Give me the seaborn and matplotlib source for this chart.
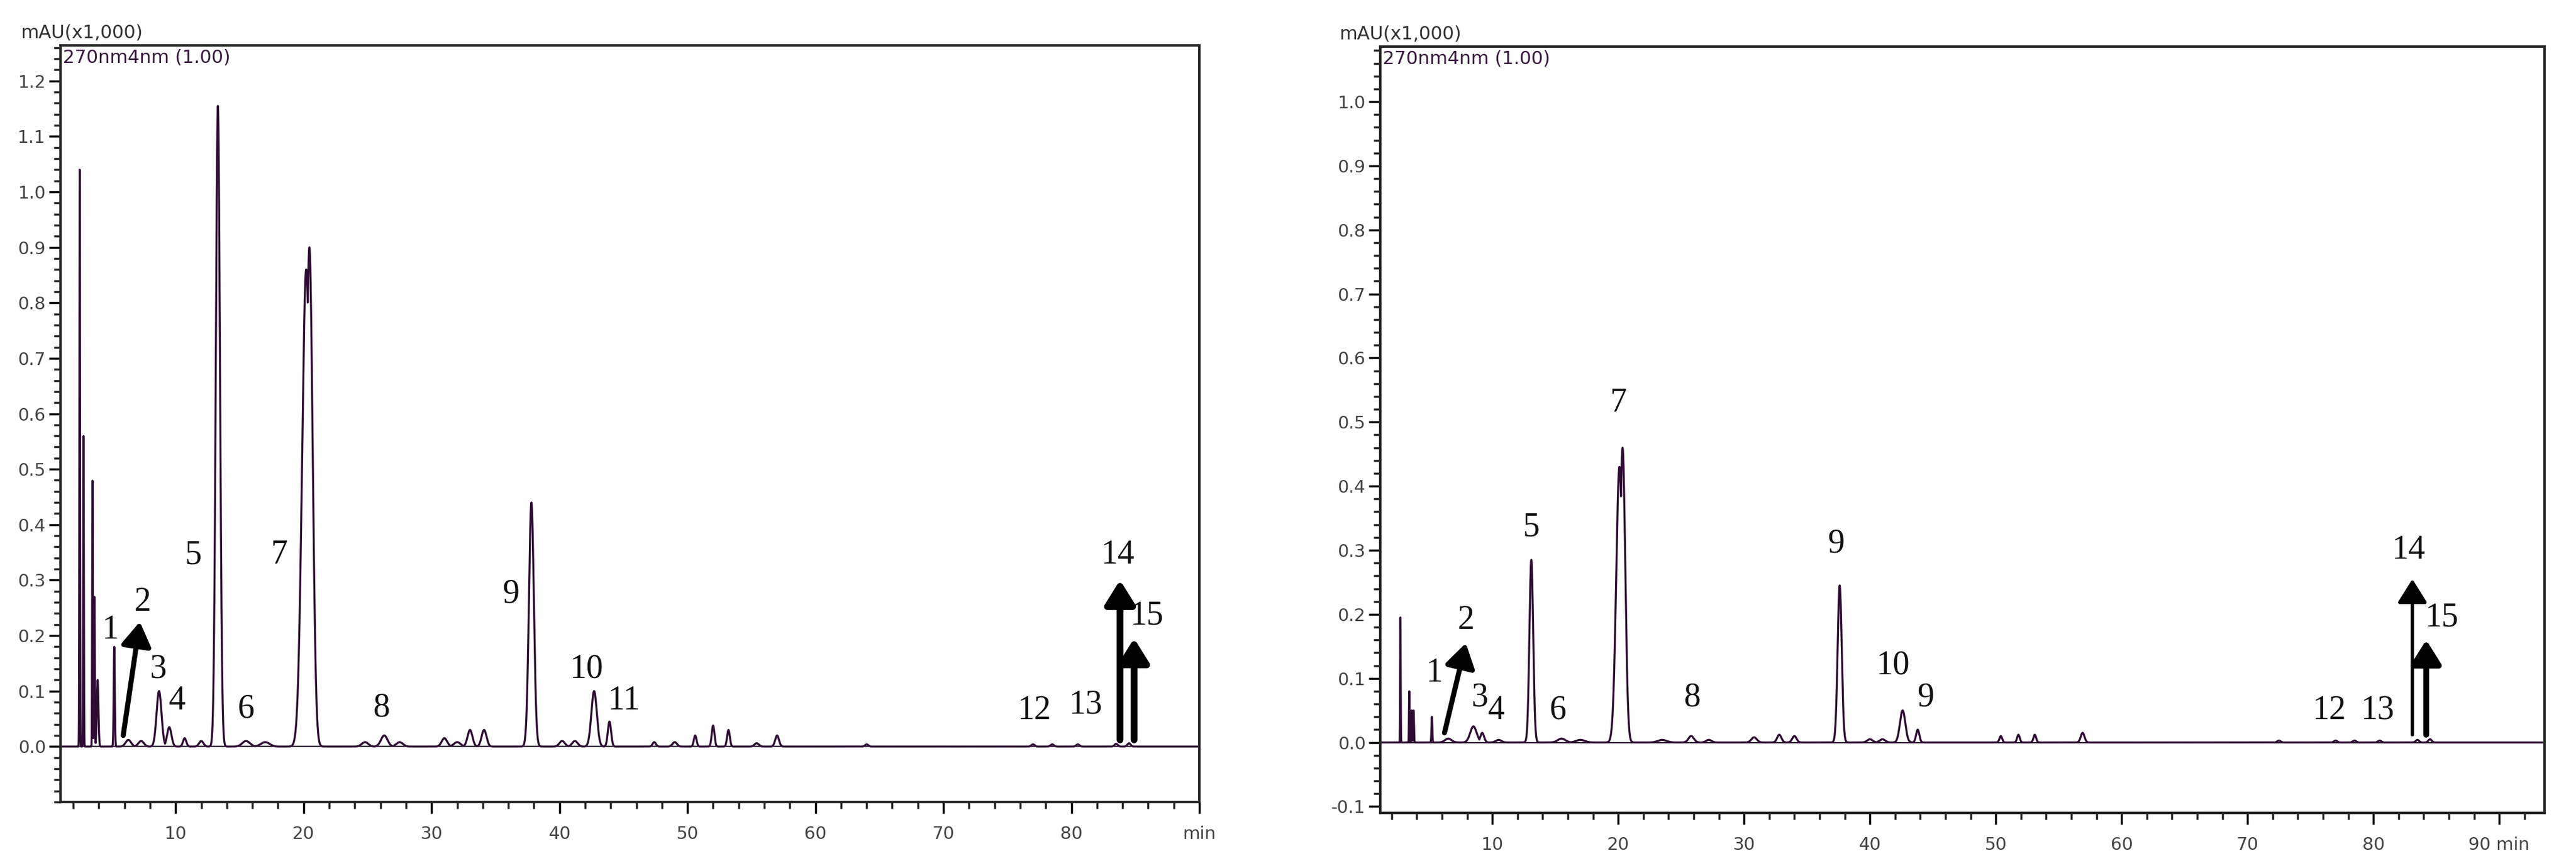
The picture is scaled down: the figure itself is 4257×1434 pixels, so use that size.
import numpy as np
import pandas as pd
import matplotlib
matplotlib.use("Agg")
import matplotlib.pyplot as plt
import seaborn as sns

# peak tables: retention time (min), height (x1000 mAU), width (min, FWHM)
left_rt = [2.5, 2.8, 3.5, 3.65, 3.9, 5.2, 6.3, 7.3, 8.7, 9.5, 10.7, 12.0,
           13.3, 15.5, 17.0, 20.2, 20.45, 24.8, 26.3, 27.5, 31.0, 32.0, 33.0, 34.1,
           37.8, 40.2, 41.2, 42.7, 43.9, 47.4, 49.0, 50.6, 52.0, 53.2, 55.4,
           57.0, 64.0, 77.0, 78.5, 80.5, 83.5, 84.5]
left_h = [1.04, 0.56, 0.48, 0.27, 0.12, 0.18, 0.012, 0.01, 0.10, 0.035, 0.015, 0.01,
          1.155, 0.01, 0.008, 0.86, 0.90, 0.008, 0.02, 0.008, 0.015, 0.008, 0.03, 0.03,
          0.44, 0.01, 0.01, 0.10, 0.045, 0.008, 0.008, 0.02, 0.038, 0.03, 0.006,
          0.02, 0.004, 0.004, 0.004, 0.004, 0.005, 0.006]
left_w = [0.06, 0.06, 0.06, 0.08, 0.15, 0.1, 0.5, 0.5, 0.45, 0.4, 0.3, 0.4,
          0.38, 0.7, 0.8, 0.75, 0.6, 0.6, 0.6, 0.6, 0.5, 0.6, 0.45, 0.45,
          0.45, 0.5, 0.5, 0.5, 0.3, 0.3, 0.4, 0.25, 0.25, 0.25, 0.4,
          0.35, 0.3, 0.3, 0.3, 0.3, 0.3, 0.3]

right_rt = [2.7, 3.4, 3.6, 3.75, 5.2, 6.5, 8.5, 9.2, 10.5, 13.1, 15.5, 17.0,
            20.1, 20.35, 23.5, 25.8, 27.2, 30.8, 32.8, 34.0, 37.6, 40.0, 41.0,
            42.6, 43.8, 50.4, 51.8, 53.1, 56.9, 72.5, 77.0, 78.5, 80.5, 83.5, 84.5]
right_h = [0.195, 0.08, 0.05, 0.05, 0.04, 0.006, 0.025, 0.015, 0.004, 0.285, 0.006, 0.004,
           0.43, 0.46, 0.004, 0.01, 0.004, 0.008, 0.012, 0.01, 0.245, 0.005, 0.005,
           0.05, 0.02, 0.01, 0.012, 0.012, 0.015, 0.003, 0.003, 0.003, 0.003, 0.004, 0.005]
right_w = [0.05, 0.05, 0.07, 0.07, 0.08, 0.6, 0.6, 0.35, 0.5, 0.35, 0.7, 0.8,
           0.6, 0.5, 0.8, 0.5, 0.5, 0.5, 0.4, 0.4, 0.38, 0.5, 0.5,
           0.5, 0.3, 0.25, 0.25, 0.25, 0.35, 0.3, 0.3, 0.3, 0.3, 0.3, 0.3]

# peak labels (text, time, height)
left_lbl = ["1", "2", "3", "4", "5", "6", "7", "8", "9", "10", "11", "12", "13", "14", "15"]
left_lx = [4.9, 7.4, 8.6, 10.1, 11.4, 15.5, 18.1, 26.1, 36.2, 42.1, 45.0, 77.1, 81.1, 83.6, 85.9]
left_ly = [0.21, 0.26, 0.14, 0.082, 0.345, 0.067, 0.345, 0.07, 0.275, 0.14, 0.082, 0.065, 0.075, 0.345, 0.235]

right_lbl = ["1", "2", "3", "4", "5", "6", "7", "8", "9", "10", "9", "12", "13", "14", "15"]
right_lx = [5.4, 7.9, 9.0, 10.3, 13.1, 15.2, 20.0, 25.9, 37.3, 41.8, 44.4, 76.5, 80.3, 82.8, 85.4]
right_ly = [0.108, 0.19, 0.07, 0.05, 0.335, 0.05, 0.53, 0.07, 0.31, 0.12, 0.07, 0.05, 0.05, 0.30, 0.195]

# arrows: (x0, y0, x1, y1, line width)
left_arrows = [(5.9, 0.02, 7.2, 0.225, 6), (83.8, 0.012, 83.8, 0.30, 8), (84.9, 0.012, 84.9, 0.195, 8)]
right_arrows = [(6.2, 0.015, 7.9, 0.155, 6), (83.1, 0.012, 83.1, 0.255, 4), (84.2, 0.012, 84.2, 0.16, 7)]


def trace(rt, h, w, t_end):
    t = np.linspace(1.0, t_end, 14000)
    y = np.zeros_like(t)
    for c, a, s in zip(rt, h, w):
        y = np.maximum(y, a * np.exp(-0.5 * ((t - c) / (s / 2.355)) ** 2))
    return pd.DataFrame({"min": t, "mAU": y})


sns.set_style("ticks")
plt.rcParams["font.family"] = ["DejaVu Sans"]
line_col = "#2e0b33"

fig = plt.figure(figsize=(42.57, 14.34), dpi=100)
W, H = 4257, 1434
ax1 = fig.add_axes([100 / W, (H - 1325) / H, 1882 / W, 1250 / H])
ax2 = fig.add_axes([2281 / W, (H - 1343) / H, 1924 / W, 1266 / H])

panels = [
    (ax1, trace(left_rt, left_h, left_w, 90), (1.0, 90), (-0.066, 1.264),
     np.arange(0, 1.21, 0.1), left_lbl, left_lx, left_ly, left_arrows, "min"),
    (ax2, trace(right_rt, right_h, right_w, 93.6), (1.1, 93.6), (-0.11, 1.086),
     np.arange(-0.1, 1.01, 0.1), right_lbl, right_lx, right_ly, right_arrows, "90 min"),
]

for ax, df, xl, yl, yt, lbl, lx, ly, arrows, lastlab in panels:
    sns.lineplot(data=df, x="min", y="mAU", ax=ax, color=line_col, lw=2.4)
    ax.axhline(0, color=line_col, lw=1.5, zorder=0)
    ax.set_xlim(*xl)
    ax.set_ylim(*yl)
    ax.set_xlabel("")
    ax.set_ylabel("")
    xt = np.arange(10, 91, 10)
    ax.set_xticks(xt)
    ax.set_xticklabels([str(v) for v in xt[:-1]] + [lastlab])
    ax.set_xticks(np.arange(2, xl[1], 2), minor=True)
    ax.set_yticks(yt)
    ax.set_yticklabels([f"{v:.1f}" for v in yt])
    ax.set_yticks(np.arange(-0.1, yl[1], 0.02), minor=True)
    ax.tick_params(axis="both", which="major", labelsize=21, length=14, width=2.5,
                   colors="black", labelcolor="#444444")
    ax.tick_params(axis="x", which="major", pad=14)
    ax.tick_params(axis="both", which="minor", length=8, width=2.5)
    for sp in ax.spines.values():
        sp.set_visible(True)
        sp.set_linewidth(3)
    for s, x, y in zip(lbl, lx, ly):
        ax.text(x, y, s, fontsize=40, family="Liberation Serif", ha="center", va="center",
                color="#111111")
    for x0, y0, x1, y1, lw in arrows:
        ax.annotate("", xy=(x1, y1), xytext=(x0, y0),
                    arrowprops=dict(arrowstyle="-|>,head_width=0.5,head_length=0.8",
                                    color="black", lw=lw, mutation_scale=30,
                                    shrinkA=0, shrinkB=0))
    ax.text(-0.035, 1.005, "mAU(x1,000)", transform=ax.transAxes, fontsize=22,
            color="#333333", va="bottom", ha="left")
    ax.text(0.002, 0.995, "270nm4nm (1.00)", transform=ax.transAxes, fontsize=22,
            color="#3a1a40", va="top", ha="left")

fig.savefig("out.png", dpi=100, facecolor="white")
